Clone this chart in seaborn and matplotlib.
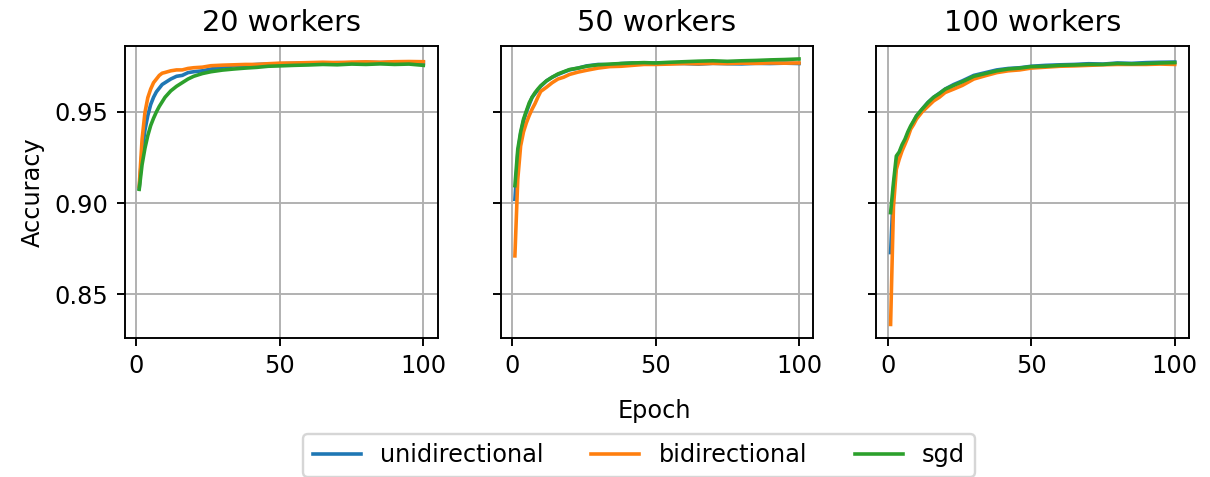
import matplotlib
matplotlib.use("Agg")
import matplotlib.pyplot as plt
import pandas as pd
import seaborn as sns

epochs = [1, 2, 3, 4, 5, 6, 7, 8, 9, 10, 12, 14, 16, 18, 20, 23, 26, 30, 34,
          38, 42, 46, 50, 55, 60, 65, 70, 75, 80, 85, 90, 95, 100]

methods = ["unidirectional", "bidirectional", "sgd"]
workers = [20, 50, 100]

# 20 workers
uni_20 = [0.908, 0.928, 0.940, 0.948, 0.954, 0.958, 0.961, 0.963, 0.965, 0.966, 0.968,
          0.9695, 0.970, 0.9715, 0.972, 0.9725, 0.9735, 0.9745, 0.9752, 0.9755, 0.976,
          0.9762, 0.9764, 0.9766, 0.9768, 0.9767, 0.977, 0.9768, 0.9772, 0.977, 0.9772,
          0.9774, 0.9772]
bi_20 = [0.909, 0.935, 0.9496, 0.9578, 0.9625, 0.966, 0.968, 0.970, 0.9712, 0.9716, 0.9725,
         0.973, 0.973, 0.9738, 0.9742, 0.9745, 0.9753, 0.9756, 0.9758, 0.976, 0.976,
         0.9764, 0.9767, 0.9768, 0.977, 0.9772, 0.977, 0.9773, 0.9774, 0.9772, 0.9775,
         0.9776, 0.9775]
sgd_20 = [0.9075, 0.921, 0.930, 0.937, 0.9425, 0.9465, 0.950, 0.953, 0.9555, 0.958, 0.9615,
          0.964, 0.966, 0.968, 0.9695, 0.971, 0.972, 0.9729, 0.9735, 0.974, 0.9744,
          0.975, 0.9752, 0.9755, 0.9757, 0.976, 0.9758, 0.9762, 0.976, 0.9763, 0.976,
          0.9762, 0.9755]

# 50 workers
uni_50 = [0.902, 0.927, 0.938, 0.945, 0.950, 0.954, 0.958, 0.960, 0.962, 0.964, 0.967,
          0.969, 0.9705, 0.9718, 0.973, 0.974, 0.9752, 0.976, 0.9758, 0.9765, 0.9768,
          0.9765, 0.9768, 0.9766, 0.9765, 0.9762, 0.9766, 0.9764, 0.9763, 0.9766, 0.9765,
          0.9767, 0.9765]
bi_50 = [0.871, 0.913, 0.9313, 0.939, 0.944, 0.948, 0.9515, 0.9545, 0.958, 0.9612, 0.9635,
         0.966, 0.968, 0.969, 0.9705, 0.9718, 0.9728, 0.974, 0.9748, 0.975, 0.9755,
         0.976, 0.976, 0.9762, 0.9765, 0.9764, 0.9766, 0.9765, 0.9767, 0.9766, 0.9768,
         0.9767, 0.9768]
sgd_50 = [0.9095, 0.9295, 0.939, 0.946, 0.9505, 0.955, 0.958, 0.9605, 0.9625, 0.9643, 0.967,
          0.969, 0.9708, 0.972, 0.9732, 0.974, 0.975, 0.9758, 0.9762, 0.9765, 0.9768,
          0.977, 0.9768, 0.9772, 0.9775, 0.9778, 0.978, 0.9777, 0.978, 0.9782, 0.9785,
          0.9787, 0.979]

# 100 workers
uni_100 = [0.8728, 0.908, 0.922, 0.927, 0.931, 0.934, 0.938, 0.9415, 0.9445, 0.9475, 0.9515,
           0.9552, 0.958, 0.9602, 0.9625, 0.965, 0.967, 0.970, 0.9715, 0.973, 0.9738,
           0.9742, 0.975, 0.9755, 0.9758, 0.976, 0.9764, 0.9762, 0.9768, 0.9766, 0.977,
           0.9772, 0.9773]
bi_100 = [0.8334, 0.898, 0.9185, 0.924, 0.9286, 0.9322, 0.936, 0.9405, 0.943, 0.946, 0.950,
          0.953, 0.956, 0.958, 0.9606, 0.9625, 0.9645, 0.968, 0.9698, 0.9715, 0.9725,
          0.973, 0.974, 0.9745, 0.975, 0.9752, 0.9755, 0.9758, 0.976, 0.976, 0.976,
          0.9762, 0.976]
sgd_100 = [0.8947, 0.9112, 0.9258, 0.928, 0.932, 0.935, 0.939, 0.9423, 0.945, 0.9478, 0.9515,
           0.955, 0.958, 0.960, 0.9624, 0.9645, 0.9665, 0.9695, 0.971, 0.9725, 0.9735,
           0.974, 0.9748, 0.975, 0.9755, 0.9757, 0.976, 0.976, 0.9765, 0.9763, 0.9765,
           0.9768, 0.977]

results = {
    20: [uni_20, bi_20, sgd_20],
    50: [uni_50, bi_50, sgd_50],
    100: [uni_100, bi_100, sgd_100],
}

# long format table for seaborn
rows = []
for w in workers:
    for m, vals in zip(methods, results[w]):
        for e, v in zip(epochs, vals):
            rows.append({"workers": w, "method": m, "epoch": e, "accuracy": v})
df = pd.DataFrame(rows)

palette = dict(zip(methods, sns.color_palette("tab10", 3)))

DPI = 172.5
fig, axes = plt.subplots(1, 3, figsize=(1210 / DPI, 477 / DPI), dpi=DPI, sharey=True)
fig.subplots_adjust(left=0.1033, right=0.9826, top=0.9042, bottom=0.292, wspace=0.202)

for ax, w in zip(axes, workers):
    sns.lineplot(data=df[df["workers"] == w], x="epoch", y="accuracy", hue="method",
                 hue_order=methods, palette=palette, errorbar=None, ax=ax)
    ax.set_title(f"{w} workers")
    ax.set_xlabel("")
    ax.set_ylabel("")
    ax.set_xticks([0, 50, 100])
    ax.set_yticks([0.85, 0.90, 0.95])
    ax.grid(True)
    ax.get_legend().remove()

axes[0].set_ylabel("Accuracy")
fig.text(0.541, 0.138, "Epoch", ha="center", va="center")

handles, labels = axes[0].get_legend_handles_labels()
fig.legend(handles, labels, loc="lower center", bbox_to_anchor=(0.528, -0.025),
           ncol=3)

fig.savefig("out.png", dpi=DPI)
